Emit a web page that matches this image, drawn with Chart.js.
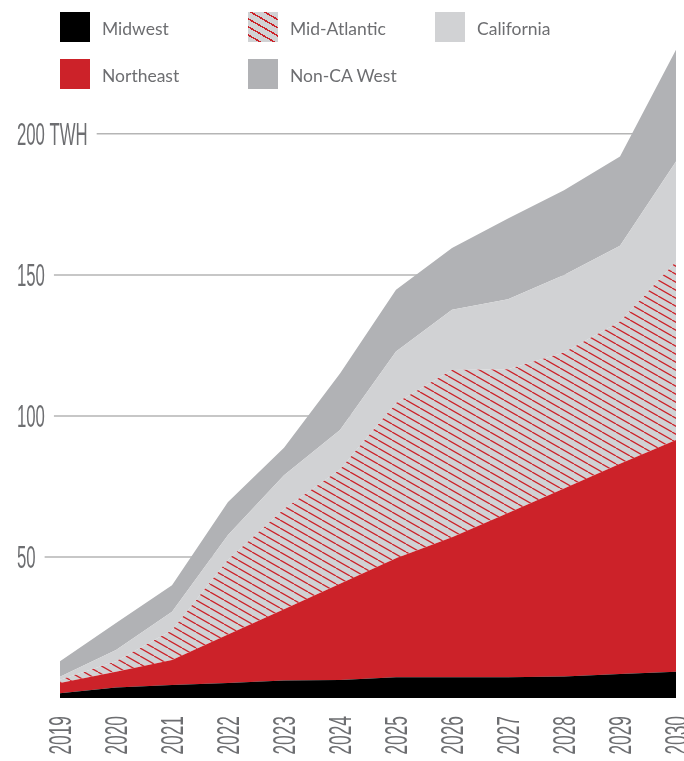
<!DOCTYPE html>
<html>
<head>
<meta charset="utf-8">
<script src="https://cdn.jsdelivr.net/npm/chart.js@4.4.1/dist/chart.umd.min.js"></script>
<style>
    body { margin: 0; background: #fff; }
    #wrap { position: relative; width: 684px; height: 761px; }
    #energyChart { position: absolute; left: 0; top: 0; }
    .legend-item { position: absolute; height: 30px; }
    .swatch { position: absolute; left: 0; top: 0; width: 30px; height: 30px; }
    .legend-label {
        position: absolute; left: 42px; top: 6px; white-space: nowrap;
        font-family: Lato, sans-serif; font-size: 17.5px; color: #6d6e71;
    }
</style>
</head>
<body>
<div id="wrap">
    <canvas id="energyChart" width="684" height="761"></canvas>
    <div class="legend-item" style="left:60px; top:12px;"><div class="swatch" style="background:#000;"></div><span class="legend-label">Midwest</span></div>
    <div class="legend-item" style="left:248px; top:12px;"><div class="swatch" style="background:repeating-linear-gradient(30deg, #d1d2d4 0px, #d1d2d4 5.5px, #cc2229 5.5px, #cc2229 7px);"></div><span class="legend-label">Mid-Atlantic</span></div>
    <div class="legend-item" style="left:435px; top:12px;"><div class="swatch" style="background:#d1d2d4;"></div><span class="legend-label">California</span></div>
    <div class="legend-item" style="left:60px; top:59px;"><div class="swatch" style="background:#cc2229;"></div><span class="legend-label">Northeast</span></div>
    <div class="legend-item" style="left:248px; top:59px;"><div class="swatch" style="background:#b1b2b5;"></div><span class="legend-label">Non-CA West</span></div>
</div>
<script>
const years = ['2019', '2020', '2021', '2022', '2023', '2024', '2025', '2026', '2027', '2028', '2029', '2030'];

// TWh per region (stacked bottom to top)
const midwest     = [1.7, 3.7, 4.6, 5.3, 6.2, 6.4, 7.4, 7.4, 7.4, 7.6, 8.5, 9.3];
const northeast   = [3.6, 5.6, 8.9, 17.2, 25.3, 34.1, 42.1, 49.6, 58.2, 66.7, 74.5, 82.2];
const midAtlantic = [1.2, 3.7, 10.5, 26.5, 35.5, 40.5, 55.1, 59.3, 50.9, 48.2, 50.5, 63.2];
const california  = [1.0, 4.0, 6.6, 8.8, 12.0, 14.0, 18.2, 21.3, 24.9, 27.5, 26.8, 35.5];
const nonCaWest   = [5.5, 9.6, 9.4, 11.7, 9.7, 20.0, 21.9, 21.9, 28.6, 30.0, 31.7, 39.6];

const yTicks = [50, 100, 150, 200];
const yTickLabels = ['50', '100', '150', '200 TWH'];

Chart.defaults.devicePixelRatio = 1;

function makeHatch() {
    const tile = document.createElement('canvas');
    tile.width = 14;
    tile.height = 8;
    const c = tile.getContext('2d');
    c.fillStyle = '#d1d2d4';
    c.fillRect(0, 0, 14, 8);
    c.strokeStyle = '#cc2229';
    c.lineWidth = 1.3;
    for (let k = -1; k <= 1; k++) {
        c.beginPath();
        c.moveTo(k * 14, 0);
        c.lineTo(k * 14 + 14, 8);
        c.stroke();
    }
    return c.createPattern(tile, 'repeat');
}

const labelFont = '31px "Liberation Sans", Arial, sans-serif';
const labelColor = '#6d6e71';
const capHalf = 11;

// gridlines + condensed axis labels
const axisPlugin = {
    id: 'axisPlugin',
    beforeDatasetsDraw(chart) {
        const ctx = chart.ctx;
        const y = chart.scales.y;
        const area = chart.chartArea;
        ctx.save();
        ctx.font = labelFont;
        yTicks.forEach(function(v, i) {
            const py = y.getPixelForValue(v);
            const w = ctx.measureText(yTickLabels[i]).width * 0.54;
            ctx.strokeStyle = '#b5b5b5';
            ctx.lineWidth = 1.5;
            ctx.beginPath();
            ctx.moveTo(17 + w + 9, py);
            ctx.lineTo(area.right, py);
            ctx.stroke();
        });
        ctx.restore();
    },
    afterDraw(chart) {
        const ctx = chart.ctx;
        const x = chart.scales.x;
        const y = chart.scales.y;
        ctx.save();
        ctx.font = labelFont;
        ctx.fillStyle = labelColor;
        ctx.textBaseline = 'alphabetic';
        yTicks.forEach(function(v, i) {
            const py = y.getPixelForValue(v);
            ctx.save();
            ctx.translate(17, py + capHalf);
            ctx.scale(0.54, 1);
            ctx.textAlign = 'left';
            ctx.fillText(yTickLabels[i], 0, 0);
            ctx.restore();
        });
        years.forEach(function(label, i) {
            const px = x.getPixelForValue(i);
            ctx.save();
            ctx.translate(px, 716);
            ctx.rotate(-Math.PI / 2);
            ctx.scale(0.56, 1);
            ctx.textAlign = 'right';
            ctx.fillText(label, 0, capHalf);
            ctx.restore();
        });
        ctx.restore();
    }
};

function areaSet(label, data, color, fill) {
    return {
        label: label,
        data: data,
        backgroundColor: color,
        borderWidth: 0,
        pointRadius: 0,
        tension: 0,
        fill: fill
    };
}

const ctx = document.getElementById('energyChart').getContext('2d');
const energyChart = new Chart(ctx, {
    type: 'line',
    data: {
        labels: years,
        datasets: [
            areaSet('Midwest', midwest, '#000000', 'origin'),
            areaSet('Northeast', northeast, '#cc2229', '-1'),
            areaSet('Mid-Atlantic', midAtlantic, makeHatch(), '-1'),
            areaSet('California', california, '#d1d2d4', '-1'),
            areaSet('Non-CA West', nonCaWest, '#b1b2b5', '-1')
        ]
    },
    options: {
        responsive: false,
        animation: false,
        layout: { padding: { left: 60, right: 8, top: 21, bottom: 63 } },
        plugins: {
            legend: { display: false },
            tooltip: { enabled: false }
        },
        scales: {
            x: { display: false, offset: false },
            y: { display: false, stacked: true, min: 0, max: 240 }
        }
    },
    plugins: [axisPlugin]
});
</script>
</body>
</html>
